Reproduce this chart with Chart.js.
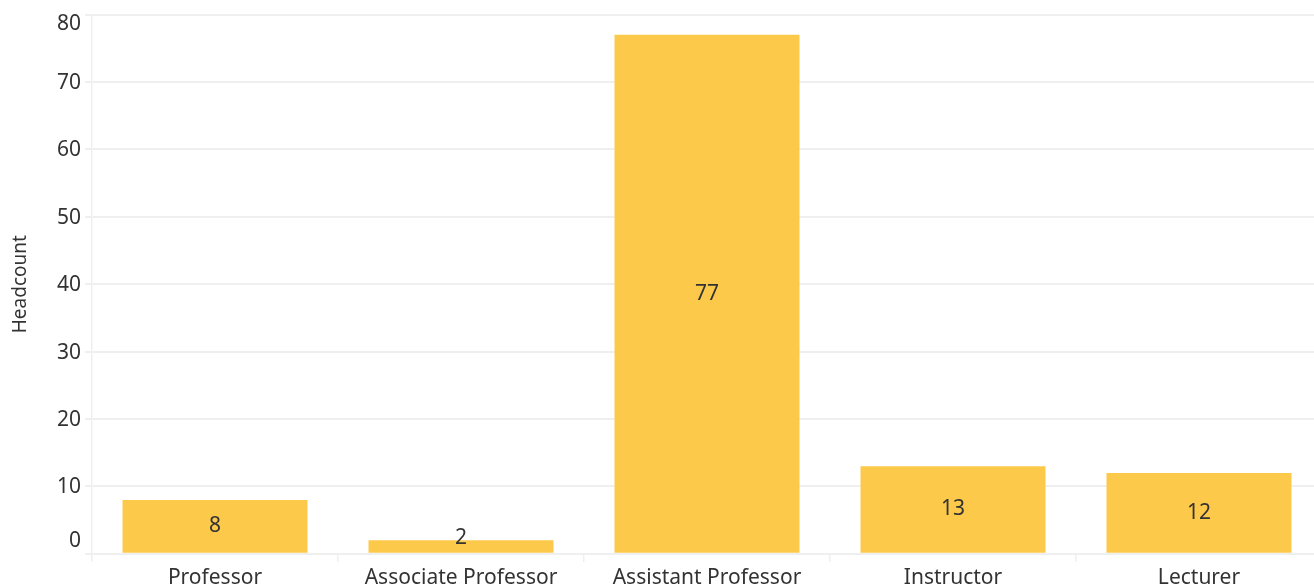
<!DOCTYPE html>
<html>
<head>
<meta charset="utf-8">
<script src="https://cdn.jsdelivr.net/npm/chart.js@4/dist/chart.umd.min.js"></script>
<style>
  html, body { margin: 0; padding: 0; background: #fff; overflow: hidden; }
  #wrap { width: 1314px; height: 586px; overflow: hidden; position: relative; }
  #box { width: 1322px; height: 600px; position: absolute; left: 0; top: -2px; }
</style>
</head>
<body>
<div id="wrap"><div id="box"><canvas id="chart"></canvas></div></div>
<script>
const categories = ['Professor', 'Associate Professor', 'Assistant Professor', 'Instructor', 'Lecturer'];
const headcount = [8, 2, 77, 13, 12];
const yMin = 0;
const yMax = 80;
const yStep = 10;

const FONT = '"Noto Sans", "DejaVu Sans", sans-serif';
const TEXT = '#333333';
const GRID = '#efefef';

// y labels drawn by hand so the end labels stay inside the plot like the original
const yLabels = {
    id: 'yLabels',
    afterDraw(chart) {
        const s = chart.scales.y;
        const area = chart.chartArea;
        const ctx = chart.ctx;
        ctx.save();
        ctx.font = '21px ' + FONT;
        ctx.fillStyle = TEXT;
        ctx.textAlign = 'right';
        ctx.textBaseline = 'middle';
        s.ticks.forEach(t => {
            let py = s.getPixelForValue(t.value);
            py = Math.max(area.top + 9, Math.min(area.bottom - 13, py + 1));
            ctx.fillText(t.label, s.right - 11, py);
        });
        ctx.restore();
    }
};

// value labels in the middle of each bar
const barLabels = {
    id: 'barLabels',
    afterDatasetsDraw(chart) {
        const ctx = chart.ctx;
        const meta = chart.getDatasetMeta(0);
        ctx.save();
        ctx.font = '21px ' + FONT;
        ctx.fillStyle = TEXT;
        ctx.textAlign = 'center';
        ctx.textBaseline = 'middle';
        meta.data.forEach((bar, i) => {
            let cy = (bar.y + bar.base) / 2;
            cy = Math.min(cy, bar.base - 15);
            ctx.fillText(String(headcount[i]), bar.x, cy);
        });
        ctx.restore();
    }
};

new Chart(document.getElementById('chart'), {
    type: 'bar',
    data: {
        labels: categories,
        datasets: [{
            label: 'Headcount',
            data: headcount,
            backgroundColor: 'rgb(252, 201, 74)',
            borderWidth: 0,
            categoryPercentage: 1,
            barPercentage: 0.752
        }]
    },
    options: {
        responsive: true,
        maintainAspectRatio: false,
        animation: false,
        layout: { padding: { top: 13, right: 0, bottom: 3, left: 0 } },
        plugins: {
            legend: { display: false },
            tooltip: { enabled: false }
        },
        scales: {
            x: {
                grid: {
                    offset: true,
                    drawOnChartArea: false,
                    drawTicks: true,
                    tickLength: 8,
                    color: GRID,
                    lineWidth: 1.5
                },
                border: { color: GRID, width: 2 },
                ticks: {
                    color: TEXT,
                    font: { family: FONT, size: 21 },
                    padding: 4,
                    maxRotation: 0
                }
            },
            y: {
                min: yMin,
                max: yMax,
                ticks: {
                    stepSize: yStep,
                    color: 'rgba(0,0,0,0)',
                    font: { family: FONT, size: 21 },
                    padding: 4
                },
                grid: {
                    color: GRID,
                    lineWidth: 2,
                    tickLength: 7
                },
                border: { color: GRID, width: 1.5 },
                title: {
                    display: true,
                    text: 'Headcount',
                    color: TEXT,
                    font: { family: FONT, size: 19 },
                    padding: { top: 9, bottom: 0 }
                },
                afterFit(scale) { scale.width = 92; }
            }
        }
    },
    plugins: [yLabels, barLabels]
});
</script>
</body>
</html>
